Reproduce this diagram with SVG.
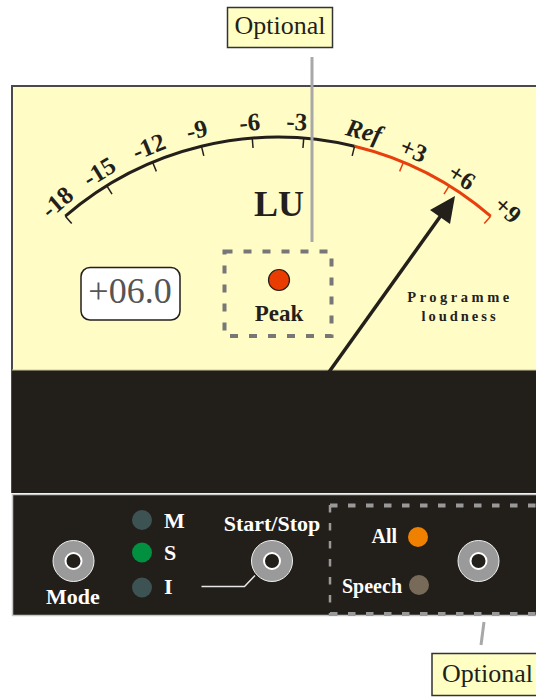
<svg xmlns="http://www.w3.org/2000/svg" width="536" height="697" viewBox="0 0 536 697">
<style>
.lbl{font-family:"Liberation Serif",serif;font-weight:bold;font-size:25px;fill:#231f1b;text-anchor:middle;dominant-baseline:central}
.wt{font-family:"Liberation Serif",serif;font-weight:bold;fill:#ffffff}
.opt{font-family:"Liberation Serif",serif;font-size:26px;fill:#231f1b}
.tick{stroke:#231f1b;stroke-width:1.5}
.tickr{stroke:#e8400c;stroke-width:1.5}
.knob-o{fill:#9a9a9a;stroke:#f0f0f0;stroke-width:1}
.knob-i{fill:#231f1b;stroke:#ffffff;stroke-width:2}
</style>
<rect width="536" height="697" fill="#ffffff"/>
<g id="meter-panel">
<rect x="12" y="86" width="540" height="406" fill="#fffcc6" stroke="#4a4a4a" stroke-width="2"/>
<rect x="12" y="370" width="540" height="123" fill="#221e1a"/>
<line x1="12" y1="370" x2="536" y2="370" stroke="#c8c6a0" stroke-width="1"/>
</g>
<g id="scale">
<path d="M65.35,216.2 A325.8,325.8 0 0 1 354.5,146.3" fill="none" stroke="#231f1b" stroke-width="3"/>
<path d="M354.5,146.3 A325.8,325.8 0 0 1 490.65,216.2" fill="none" stroke="#e8400c" stroke-width="3"/>
<line class="tick" x1="278" y1="137.2" x2="278" y2="147" transform="rotate(-40.75 278 463)"/>
<line class="tick" x1="278" y1="137.2" x2="278" y2="147" transform="rotate(-31.69 278 463)"/>
<line class="tick" x1="278" y1="137.2" x2="278" y2="147" transform="rotate(-22.64 278 463)"/>
<line class="tick" x1="278" y1="137.2" x2="278" y2="147" transform="rotate(-13.58 278 463)"/>
<line class="tick" x1="278" y1="137.2" x2="278" y2="147" transform="rotate(-4.53 278 463)"/>
<line class="tick" x1="278" y1="137.2" x2="278" y2="147" transform="rotate(4.53 278 463)"/>
<line class="tick" x1="278" y1="137.2" x2="278" y2="147" transform="rotate(13.58 278 463)"/>
<line class="tickr" x1="278" y1="137.2" x2="278" y2="147" transform="rotate(22.64 278 463)"/>
<line class="tickr" x1="278" y1="137.2" x2="278" y2="147" transform="rotate(31.69 278 463)"/>
<line class="tickr" x1="278" y1="137.2" x2="278" y2="147" transform="rotate(40.75 278 463)"/>
<text class="lbl" x="278" y="121" transform="rotate(-40.27 278 463)">-18</text>
<text class="lbl" x="278" y="121" transform="rotate(-31.55 278 463)">-15</text>
<text class="lbl" x="278" y="121" transform="rotate(-22.23 278 463)">-12</text>
<text class="lbl" x="278" y="120" transform="rotate(-13.72 278 463)">-9</text>
<text class="lbl" x="278" y="121" transform="rotate(-4.77 278 463)">-6</text>
<text class="lbl" x="278" y="121" transform="rotate(3.15 278 463)">-3</text>
<text class="lbl" x="278" y="120" font-style="italic" transform="rotate(14.52 278 463)">Ref</text>
<text class="lbl" x="278" y="122" transform="rotate(23.44 278 463)">+3</text>
<text class="lbl" x="278" y="123" transform="rotate(32.72 278 463)">+6</text>
<text class="lbl" x="278" y="121" transform="rotate(42.22 278 463)">+9</text>
<text x="279" y="216" font-family="Liberation Serif, serif" font-weight="bold" font-size="36" fill="#231f1b" text-anchor="middle">LU</text>
</g>
<g id="display">
<rect x="81" y="267.5" width="99" height="52.5" rx="9" fill="#ffffff" stroke="#231f1b" stroke-width="1.5"/>
<text x="130" y="303" font-family="Liberation Serif, serif" font-size="36" fill="#555555" text-anchor="middle">+06.0</text>
</g>
<g id="peak">
<rect x="224.5" y="251.5" width="107" height="84.5" fill="none" stroke="#777777" stroke-width="4" stroke-dasharray="8 11"/>
<circle cx="279" cy="280" r="10.5" fill="#e83c00" stroke="#231f1b" stroke-width="1.2"/>
<text x="279" y="321" font-family="Liberation Serif, serif" font-weight="bold" font-size="23" fill="#231f1b" text-anchor="middle">Peak</text>
</g>
<g id="programme-loudness">
<text x="460" y="302" font-family="Liberation Serif, serif" font-weight="bold" font-size="14.5" letter-spacing="3.5" fill="#231f1b" text-anchor="middle">Programme</text>
<text x="460" y="321" font-family="Liberation Serif, serif" font-weight="bold" font-size="14.5" letter-spacing="3" fill="#231f1b" text-anchor="middle">loudness</text>
</g>
<g id="needle">
<line x1="329" y1="372" x2="442" y2="214" stroke="#231f1b" stroke-width="3.5"/>
<polygon points="455,196 430,210 450,224" fill="#231f1b"/>
</g>
<g id="control-panel">
<rect x="12.5" y="494.5" width="540" height="121" fill="#221e1a" stroke="#c8c8c8" stroke-width="1.5"/>
<line x1="330" y1="505.5" x2="536" y2="505.5" stroke="#999999" stroke-width="4" stroke-dasharray="7.5 10.5"/>
<line x1="330" y1="614" x2="536" y2="614" stroke="#999999" stroke-width="4" stroke-dasharray="7.5 10.5"/>
<line x1="330" y1="505" x2="330" y2="616" stroke="#999999" stroke-width="2.5" stroke-dasharray="7.5 10.5"/>
</g>
<g id="mode">
<circle class="knob-o" cx="73.5" cy="561" r="20.5"/>
<circle class="knob-i" cx="73.5" cy="561" r="8"/>
<text class="wt" x="73" y="604" font-size="22" text-anchor="middle">Mode</text>
</g>
<g id="leds">
<circle cx="142" cy="520" r="10" fill="#3d5252"/>
<circle cx="142" cy="552.5" r="10" fill="#009040"/>
<circle cx="142" cy="587.5" r="10" fill="#3d5252"/>
<text class="wt" x="164" y="527.5" font-size="22">M</text>
<text class="wt" x="164" y="560" font-size="22">S</text>
<text class="wt" x="164" y="594" font-size="22">I</text>
</g>
<g id="start-stop">
<circle class="knob-o" cx="272" cy="561" r="20.5"/>
<circle class="knob-i" cx="272" cy="561" r="8"/>
<text class="wt" x="272" y="531" font-size="22" text-anchor="middle">Start/Stop</text>
</g>
<g id="select">
<circle class="knob-o" cx="478.5" cy="561" r="20.5"/>
<circle class="knob-i" cx="478.5" cy="561" r="8"/>
<text class="wt" x="397" y="543" font-size="20" text-anchor="end">All</text>
<circle cx="418" cy="537" r="10" fill="#f08000"/>
<text class="wt" x="402" y="592.5" font-size="20" text-anchor="end">Speech</text>
<circle cx="419" cy="585" r="10" fill="#786a58"/>
</g>
<g id="connectors">
<polyline points="201.5,586.5 244.5,586.5 255,575.5" fill="none" stroke="#e8e8e8" stroke-width="1.5"/>
<line x1="312" y1="57" x2="312" y2="242" stroke="#a8a8a8" stroke-width="3"/>
<line x1="484" y1="622" x2="481" y2="645" stroke="#a8a8a8" stroke-width="3"/>
</g>
<g id="optional-top">
<rect x="227.5" y="7.5" width="105" height="40" fill="#ffffc4" stroke="#333333" stroke-width="1.5"/>
<text class="opt" x="280" y="34" text-anchor="middle">Optional</text>
</g>
<g id="optional-bottom">
<rect x="432" y="653.5" width="110" height="42" fill="#ffffc4" stroke="#333333" stroke-width="1.5"/>
<text class="opt" x="442" y="682">Optional</text>
</g>
</svg>
